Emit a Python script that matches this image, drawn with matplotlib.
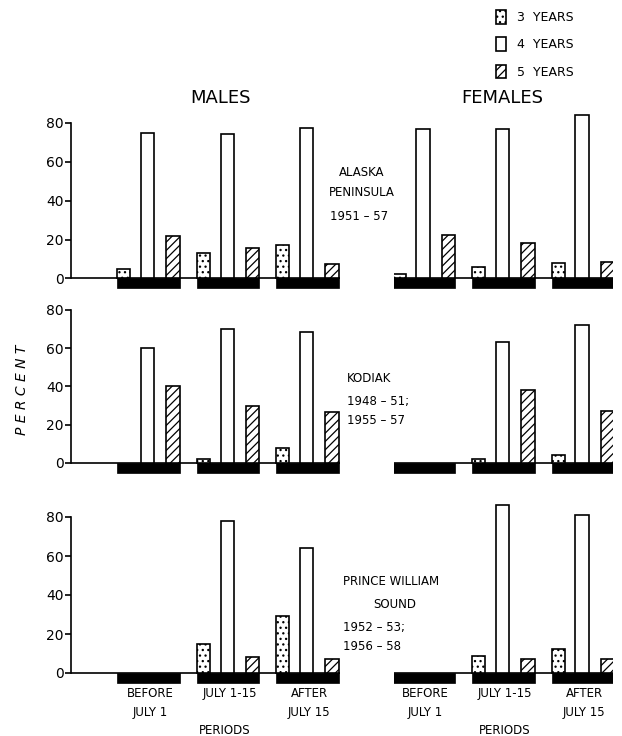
import matplotlib
matplotlib.use("Agg")
import matplotlib.pyplot as plt
from matplotlib.patches import Patch
import numpy as np

W, H = 622, 736

periods = ["BEFORE\nJULY 1", "JULY 1-15", "AFTER\nJULY 15"]
age_labels = ["3  YEARS", "4  YEARS", "5  YEARS"]

# one row per area, one value per period (percent)
males_3yr = [[5, 13, 17], [0, 2, 8], [0, 15, 29]]
males_4yr = [[74.5, 74, 77.5], [60, 70, 68.5], [0, 78, 64]]
males_5yr = [[22, 15.5, 7.5], [40, 30, 26.5], [0, 8, 7]]
females_3yr = [[2.5, 6, 8], [0, 2, 4], [0, 8.5, 12.5]]
females_4yr = [[77, 77, 84], [0, 63, 72], [0, 86, 81]]
females_5yr = [[22.5, 18, 8.5], [0, 38, 27], [0, 7, 7]]

plt.rcParams["hatch.linewidth"] = 0.9
plt.rcParams["font.family"] = "DejaVu Sans"

fig = plt.figure(figsize=(W / 100, H / 100), dpi=100)

# row layout in pixels: zero line position and px per unit
rows = [(278.5, 1.9475), (463.0, 1.915), (673.0, 1.95)]
ymin, ymax = -6, 88
offsets = [-0.30, 0.0, 0.32]
bw = 0.165
hatches = ["...", "", "////"]


def px_box(left, right, top, bottom):
    return [left / W, 1 - bottom / H, (right - left) / W, (bottom - top) / H]


def draw_groups(ax, v3, v4, v5):
    x = np.arange(3)
    for vals, off, h in zip([v3, v4, v5], offsets, hatches):
        vals = np.asarray(vals, dtype=float)
        keep = vals > 0
        ax.bar(x[keep] + off, vals[keep], width=bw, color="white",
               edgecolor="black", linewidth=1.2, hatch=h, zorder=3)
    # black base strip under each period
    ax.bar(x + 0.01, [-5] * 3, width=0.785, bottom=0, color="black",
           edgecolor="black", linewidth=0.5, zorder=2)
    ax.axhline(0, color="black", lw=1.2, zorder=1)


for i, (z, s) in enumerate(rows):
    top = z - ymax * s
    bottom = z - ymin * s
    axm = fig.add_axes(px_box(70.7, 340, top, bottom))
    axf = fig.add_axes(px_box(394, 613, top, bottom))
    draw_groups(axm, males_3yr[i], males_4yr[i], males_5yr[i])
    draw_groups(axf, females_3yr[i], females_4yr[i], females_5yr[i])

    axm.set_xlim(-0.966, 2.42)
    axf.set_xlim(-0.365, 2.39)
    for ax in (axm, axf):
        ax.set_ylim(ymin, ymax)
        for sp in ["top", "right", "bottom"]:
            ax.spines[sp].set_visible(False)
        ax.patch.set_alpha(0)
    axf.spines["left"].set_visible(False)
    axf.set_yticks([])
    axm.spines["left"].set_bounds(0, 80)
    axm.spines["left"].set_linewidth(1.2)
    axm.set_yticks([0, 20, 40, 60, 80])
    axm.tick_params(axis="y", length=4, width=1.2, pad=1, labelsize=10)

    if i == 2:
        for ax in (axm, axf):
            ax.set_xticks(np.arange(3) + 0.03)
            ax.set_xticklabels(periods, fontsize=8.5, linespacing=1.6)
            ax.tick_params(axis="x", length=0, pad=2)
    else:
        axm.set_xticks([])
        axf.set_xticks([])


def ftext(x, y, s, **kw):
    fig.text(x / W, 1 - y / H, s, **kw)


ftext(221, 98, "MALES", ha="center", va="center", fontsize=13)
ftext(502, 98, "FEMALES", ha="center", va="center", fontsize=13)
ftext(225, 731, "PERIODS", ha="center", va="center", fontsize=8.5)
ftext(505, 731, "PERIODS", ha="center", va="center", fontsize=8.5)
ftext(22, 390, "P E R C E N T", ha="center", va="center", fontsize=10,
      rotation=90, style="italic")

region_kw = dict(va="center", fontsize=8.5)
ftext(362, 173, "ALASKA", ha="center", **region_kw)
ftext(362, 193, "PENINSULA", ha="center", **region_kw)
ftext(359, 216, "1951 – 57", ha="center", **region_kw)
ftext(347, 378, "KODIAK", ha="left", **region_kw)
ftext(347, 401.7, "1948 – 51;", ha="left", **region_kw)
ftext(347, 421, "1955 – 57", ha="left", **region_kw)
ftext(391.5, 581.7, "PRINCE WILLIAM", ha="center", **region_kw)
ftext(395, 604, "SOUND", ha="center", **region_kw)
ftext(343, 627.7, "1952 – 53;", ha="left", **region_kw)
ftext(343, 646.7, "1956 – 58", ha="left", **region_kw)

handles = [Patch(facecolor="white", edgecolor="black", hatch=h, linewidth=1.2)
           for h in hatches]
fig.legend(handles, age_labels, loc="upper left",
           bbox_to_anchor=(496 / W, 1 - 10 / H), frameon=False, fontsize=9,
           handlelength=0.8, handleheight=1.3, labelspacing=1.07,
           handletextpad=0.9, borderpad=0, borderaxespad=0)

fig.savefig("out.png", dpi=100)
